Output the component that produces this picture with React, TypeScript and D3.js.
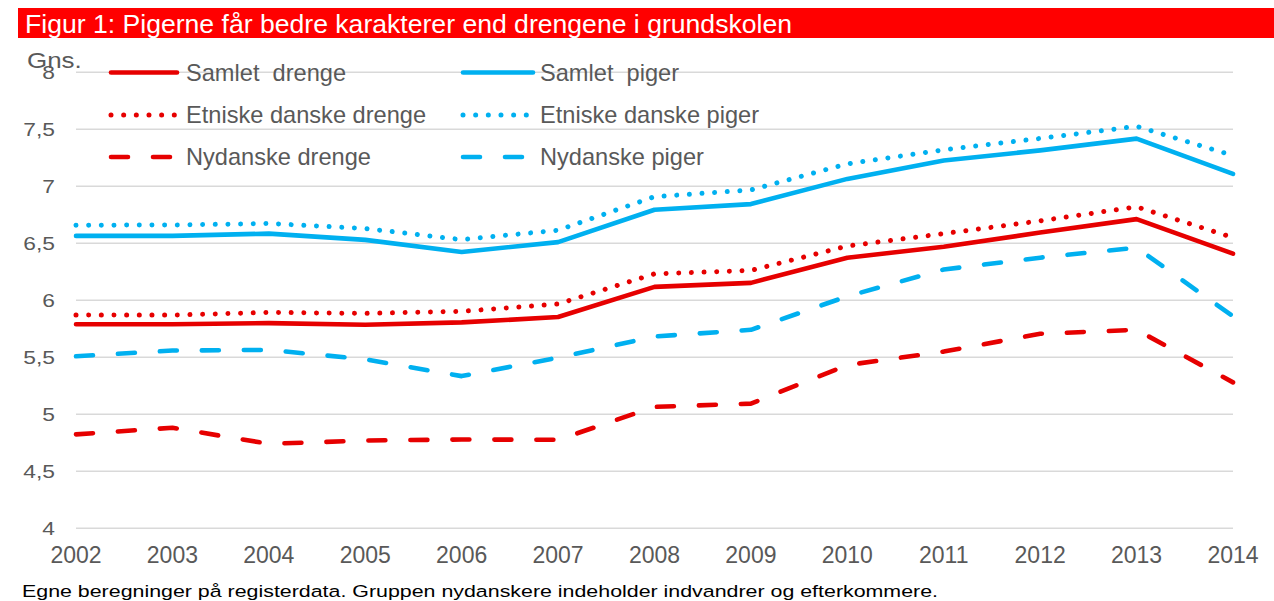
import React from "react";
import * as d3 from "d3";

const years = [2002, 2003, 2004, 2005, 2006, 2007, 2008, 2009, 2010, 2011, 2012, 2013, 2014];
const yTicks = [4, 4.5, 5, 5.5, 6, 6.5, 7, 7.5, 8];
const yTickLabels = ["4", "4,5", "5", "5,5", "6", "6,5", "7", "7,5", "8"];

const samletDrenge = [5.79, 5.79, 5.8, 5.785, 5.806, 5.853, 6.118, 6.153, 6.374, 6.47, 6.594, 6.712, 6.409];
const samletPiger = [6.565, 6.565, 6.585, 6.53, 6.424, 6.51, 6.794, 6.844, 7.065, 7.226, 7.315, 7.418, 7.109];
const etniskeDrenge = [5.871, 5.87, 5.894, 5.885, 5.903, 5.968, 6.232, 6.262, 6.476, 6.585, 6.697, 6.82, 6.55];
const etniskePiger = [6.659, 6.66, 6.674, 6.63, 6.532, 6.615, 6.909, 6.968, 7.197, 7.32, 7.42, 7.526, 7.27];
const nydanskeDrenge = [4.824, 4.882, 4.741, 4.77, 4.779, 4.776, 5.065, 5.094, 5.432, 5.55, 5.706, 5.741, 5.28];
const nydanskePiger = [5.509, 5.559, 5.565, 5.482, 5.335, 5.497, 5.682, 5.741, 6.035, 6.27, 6.374, 6.462, 5.86];

const seriesNames = [
  "Samlet  drenge",
  "Samlet  piger",
  "Etniske danske drenge",
  "Etniske danske piger",
  "Nydanske drenge",
  "Nydanske piger",
];

const title = "Figur 1: Pigerne får bedre karakterer end drengene i grundskolen";
const footer = "Egne beregninger på registerdata. Gruppen nydanskere indeholder indvandrer og efterkommere.";
const yAxisTitle = "Gns.";

const RED = "#e60000";
const BLUE = "#00b0f0";
const TEXT = "#595959";
const FONT = "'Liberation Sans', Arial, Helvetica, sans-serif";

const DOT = "0.01 12.65";
const DASH = "17 25";

export default function App() {
  const x = d3.scaleLinear().domain([2002, 2014]).range([76, 1233]);
  const y = d3.scaleLinear().domain([4, 8]).range([528.3, 72.3]);

  const line = d3
    .line<number>()
    .x((_, i) => x(years[i]))
    .y((d) => y(d));

  const series = [
    { name: seriesNames[0], data: samletDrenge, color: RED, dash: null },
    { name: seriesNames[1], data: samletPiger, color: BLUE, dash: null },
    { name: seriesNames[2], data: etniskeDrenge, color: RED, dash: DOT },
    { name: seriesNames[3], data: etniskePiger, color: BLUE, dash: DOT },
    { name: seriesNames[4], data: nydanskeDrenge, color: RED, dash: DASH },
    { name: seriesNames[5], data: nydanskePiger, color: BLUE, dash: DASH },
  ];

  const drawOrder = [4, 5, 2, 3, 0, 1];

  const legendRows = [72.5, 115, 157];
  const legendCols = [
    { x1: 111, x2: 177, tx: 186 },
    { x1: 463, x2: 533, tx: 540 },
  ];

  return (
    <svg
      width={1274}
      height={601}
      style={{ position: "absolute", left: 0, top: 0, background: "#fff" }}
      fontFamily={FONT}
    >
      <rect x={0} y={0} width={1274} height={601} fill="#fff" />
      <rect x={18} y={8} width={1256} height={30} fill="#ff0000" />
      <text x={25} y={33} fill="#fff" fontSize={26.5} textLength={767} lengthAdjust="spacingAndGlyphs">
        {title}
      </text>

      {yTicks.map((t) => (
        <line
          key={"g" + t}
          x1={76}
          x2={1233}
          y1={y(t)}
          y2={y(t)}
          stroke="#d9d9d9"
          strokeWidth={1.4}
        />
      ))}

      {yTicks.map((t, i) => (
        <g key={"yl" + t} transform={`translate(55,${y(t) + 6.8}) scale(1.2,1)`}>
          <text x={0} y={0} textAnchor="end" fill={TEXT} fontSize={19}>
            {yTickLabels[i]}
          </text>
        </g>
      ))}
      <g transform="translate(27,68) scale(1.18,1)">
        <text x={0} y={0} fill={TEXT} fontSize={22}>
          {yAxisTitle}
        </text>
      </g>

      {years.map((yr) => (
        <text
          key={"xl" + yr}
          x={x(yr)}
          y={563.3}
          textAnchor="middle"
          fill={TEXT}
          fontSize={23}
        >
          {yr}
        </text>
      ))}

      {drawOrder.map((si) => {
        const s = series[si];
        return (
          <path
            key={s.name}
            d={line(s.data) || ""}
            fill="none"
            stroke={s.color}
            strokeWidth={s.dash === DOT ? 5 : 4.6}
            strokeLinecap="round"
            strokeLinejoin="round"
            strokeDasharray={s.dash || undefined}
          />
        );
      })}

      {series.map((s, i) => {
        const col = legendCols[i % 2];
        const ry = legendRows[Math.floor(i / 2)];
        return (
          <g key={"lg" + i}>
            <line
              x1={col.x1}
              x2={col.x2}
              y1={ry}
              y2={ry}
              stroke={s.color}
              strokeWidth={s.dash === DOT ? 5 : 4.6}
              strokeLinecap="round"
              strokeDasharray={s.dash || undefined}
            />
            <text x={col.tx} y={ry + 8.4} fill={TEXT} fontSize={23.6} style={{ whiteSpace: "pre" }}>
              {s.name}
            </text>
          </g>
        );
      })}

      <text
        x={22}
        y={596.7}
        fill="#000"
        fontSize={16.3}
        textLength={916}
        lengthAdjust="spacingAndGlyphs"
      >
        {footer}
      </text>
    </svg>
  );
}
